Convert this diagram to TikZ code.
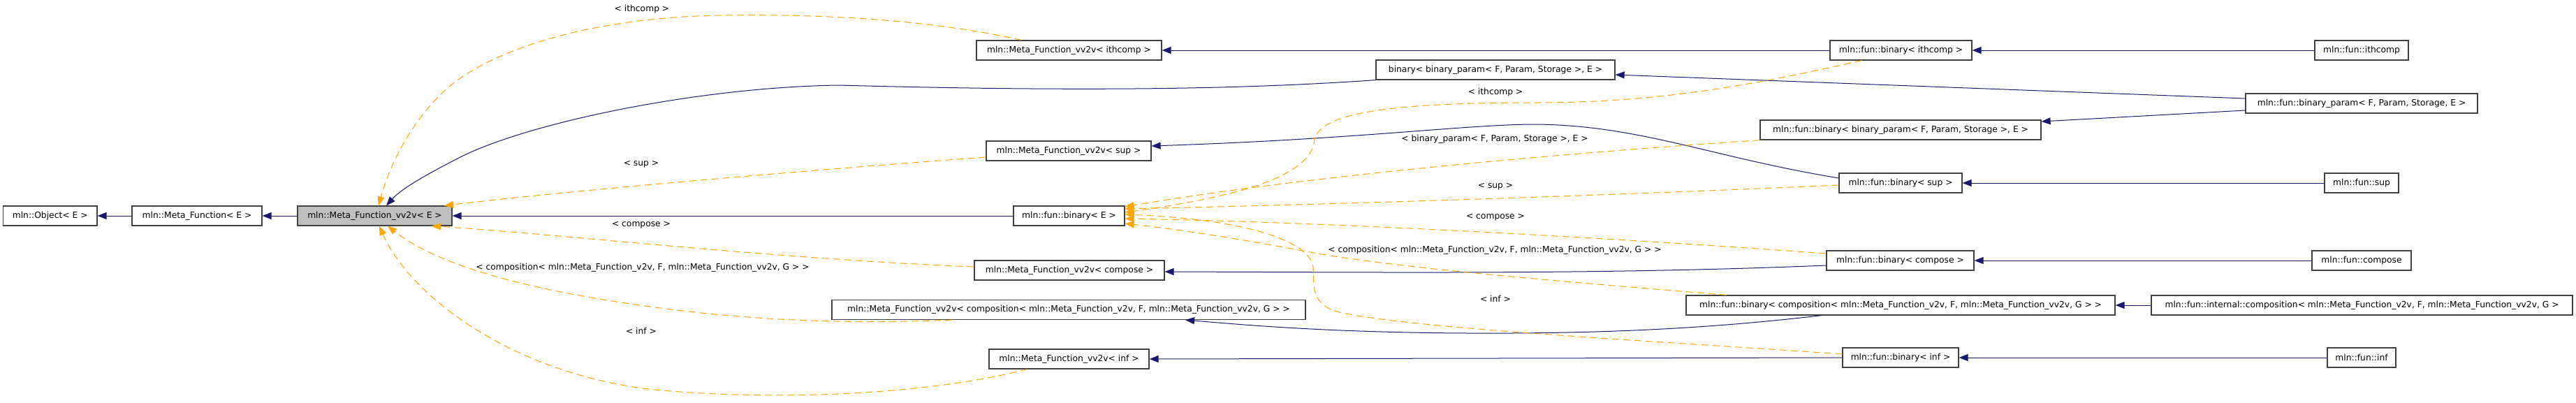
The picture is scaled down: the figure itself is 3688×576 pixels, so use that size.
\documentclass[tikz,border=0pt]{standalone}
\usepackage{fontspec}
\setmainfont{DejaVu Sans}
\usetikzlibrary{arrows.meta}
\definecolor{navyedge}{RGB}{25,25,112}
\definecolor{orangeedge}{RGB}{255,165,0}
\definecolor{boxgray}{RGB}{64,64,64}
\definecolor{mainfill}{RGB}{191,191,191}
\newcommand{\dfont}{\fontsize{12.3pt}{14pt}\selectfont}
\tikzset{
  cbox/.style={draw=boxgray, line width=1.2pt, fill=white, inner sep=0pt, minimum height=28pt, font=\dfont},
  lbl/.style={inner sep=0pt, font=\dfont},
  inh/.style={draw=navyedge, line width=1pt, -{Triangle[length=13pt,width=10pt]}},
  tpl/.style={draw=orangeedge, line width=1pt, dash pattern=on 10pt off 6pt, -{Triangle[length=13pt,width=10pt]}}
}
\begin{document}
\begin{tikzpicture}[x=1pt,y=-1pt]
\useasboundingbox[fill=white] (0,0) rectangle (3688,576);
% nodes
\node[cbox, minimum width=134.6pt] (obj) at (71.7,309) {mln::Object< E >};
\node[cbox, minimum width=186pt] (mf) at (282,309) {mln::Meta\_Function< E >};
\node[cbox, minimum width=221pt, fill=mainfill] (vv) at (536.5,309) {mln::Meta\_Function\_vv2v< E >};
\node[cbox, minimum width=159pt] (binE) at (1530.5,309) {mln::fun::binary< E >};
\node[cbox, minimum width=265pt] (vvith) at (1530.5,72) {mln::Meta\_Function\_vv2v< ithcomp >};
\node[cbox, minimum width=236pt] (vvsup) at (1530,216) {mln::Meta\_Function\_vv2v< sup >};
\node[cbox, minimum width=272pt] (vvcompose) at (1531,387) {mln::Meta\_Function\_vv2v< compose >};
\node[cbox, minimum width=678pt] (vvcomposition) at (1530,443.5) {mln::Meta\_Function\_vv2v< composition< mln::Meta\_Function\_v2v, F, mln::Meta\_Function\_vv2v, G > >};
\node[cbox, minimum width=229pt] (vvinf) at (1530.5,514) {mln::Meta\_Function\_vv2v< inf >};
\node[cbox, minimum width=342pt] (bbp) at (2141,100) {binary< binary\_param< F, Param, Storage >, E >};
\node[cbox, minimum width=203pt] (fbith) at (2721.5,72) {mln::fun::binary< ithcomp >};
\node[cbox, minimum width=402pt] (fbbp) at (2721,186) {mln::fun::binary< binary\_param< F, Param, Storage >, E >};
\node[cbox, minimum width=176pt] (fbsup) at (2721,262) {mln::fun::binary< sup >};
\node[cbox, minimum width=211pt] (fbcompose) at (2720.5,373) {mln::fun::binary< compose >};
\node[cbox, minimum width=614pt] (fbcomposition) at (2721,437) {mln::fun::binary< composition< mln::Meta\_Function\_v2v, F, mln::Meta\_Function\_vv2v, G > >};
\node[cbox, minimum width=166pt] (fbinf) at (2721,512) {mln::fun::binary< inf >};
\node[cbox, minimum width=134pt] (ithcomp) at (3381,72) {mln::fun::ithcomp};
\node[cbox, minimum width=332pt] (bparam) at (3381,148) {mln::fun::binary\_param< F, Param, Storage, E >};
\node[cbox, minimum width=106pt] (sup) at (3381,262) {mln::fun::sup};
\node[cbox, minimum width=142pt] (compose) at (3381,373) {mln::fun::compose};
\node[cbox, minimum width=603pt] (intcomp) at (3381.5,437) {mln::fun::internal::composition< mln::Meta\_Function\_v2v, F, mln::Meta\_Function\_vv2v, G >};
\node[cbox, minimum width=98pt] (inf) at (3381,512) {mln::fun::inf};
% labels
\node[lbl] (l1) at (919,13) {< ithcomp >};
\node[lbl] (l2) at (918,235) {< sup >};
\node[lbl] (l3) at (918,322) {< compose >};
\node[lbl] (l4) at (920,383) {< composition< mln::Meta\_Function\_v2v, F, mln::Meta\_Function\_vv2v, G > >};
\node[lbl] (l5) at (918,474) {< inf >};
\node[lbl] (r1) at (2141,132) {< ithcomp >};
\node[lbl] (r2) at (2140,199) {< binary\_param< F, Param, Storage >, E >};
\node[lbl] (r3) at (2141,267) {< sup >};
\node[lbl] (r4) at (2141,311) {< compose >};
\node[lbl] (r5) at (2140,358) {< composition< mln::Meta\_Function\_v2v, F, mln::Meta\_Function\_vv2v, G > >};
\node[lbl] (r6) at (2141,428) {< inf >};
% straight inheritance
\draw[inh] (mf.west) -- (obj.east);
\draw[inh] (vv.west) -- (mf.east);
\draw[inh] (binE.west) -- (vv.east);
\draw[inh] (fbith.west) -- (vvith.east);
\draw[inh] (ithcomp.west) -- (fbith.east);
\draw[inh] ([yshift=7pt]bparam.west) -- ([yshift=-7pt]bbp.east);
\draw[inh] ([yshift=-10pt]bparam.west) -- ([yshift=12pt]fbbp.east);
\draw[inh] (sup.west) -- (fbsup.east);
\draw[inh] (compose.west) -- (fbcompose.east);
\draw[inh] (intcomp.west) -- (fbcomposition.east);
\draw[inh] (inf.west) -- (fbinf.east);
\draw[inh] (fbinf.west) -- (vvinf.east);
% curved inheritance
\draw[inh] (bbp.south west) .. controls (1750,130) and (1500,130) .. (1200,122)
  .. controls (1000,125) and (760,175) .. (661,224)
  .. controls (610,250) and (575,270) .. ([xshift=16.5pt]vv.north);
\draw[inh] ([yshift=7pt]fbsup.west) .. controls (2450,225) and (2350,180) .. (2200,178)
  .. controls (2100,178) and (1950,199) .. ([yshift=7pt]vvsup.east);
\draw[inh] ([yshift=-7pt]fbcompose.west) .. controls (2300,393) and (2000,390) .. ([yshift=-2pt]vvcompose.east);
\draw[inh] ([xshift=-113pt]fbcomposition.south) .. controls (2450,470) and (2300,478) .. (2100,477)
  .. controls (1900,476) and (1780,465) .. ([xshift=167pt]vvcomposition.south);
% template edges to vv2v<E>
\draw[tpl] ([xshift=-68pt]vvith.north) .. controls (1330,28) and (1180,20) .. (1036,22)
  .. controls (850,24) and (700,70) .. (634,132)
  .. controls (590,175) and (560,230) .. ([xshift=5.5pt]vv.north);
\draw[tpl] ([yshift=-9pt]vvsup.west) .. controls (1100,248) and (800,275) .. ([xshift=99.5pt]vv.north);
\draw[tpl] ([yshift=5pt]vvcompose.west) .. controls (1100,370) and (800,335) .. ([xshift=81.5pt]vv.south);
\draw[tpl] ([xshift=-167pt]vvcomposition.south) .. controls (1250,463) and (1100,462) .. (946,441)
  .. controls (800,422) and (640,390) .. ([xshift=18.5pt]vv.south);
\draw[tpl] ([xshift=-60pt]vvinf.south) .. controls (1350,560) and (1150,575) .. (960,560)
  .. controls (750,545) and (590,430) .. ([xshift=6.5pt]vv.south);
% template edges to binary<E>
\draw[tpl] ([xshift=-56pt]fbith.south) .. controls (2550,112) and (2400,147) .. (2200,147)
  .. controls (2000,147) and (1890,160) .. (1882,200)
  .. controls (1878,240) and (1820,275) .. ([yshift=5pt]binE.east);
\draw[tpl] (fbbp.south west) .. controls (2200,222) and (1850,255) .. ([yshift=13pt]binE.east);
\draw[tpl] ([yshift=-3pt]fbsup.west) .. controls (2300,280) and (1900,293) .. ([yshift=10pt]binE.east);
\draw[tpl] ([yshift=10pt]fbcompose.west) .. controls (2300,340) and (1900,318) .. ([yshift=-4pt]binE.east);
\draw[tpl] ([xshift=-249pt]fbcomposition.north) .. controls (2300,408) and (2000,385) .. (1870,360)
  .. controls (1780,343) and (1700,330) .. ([yshift=-11pt]binE.east);
\draw[tpl] ([yshift=5pt]fbinf.west) .. controls (2400,490) and (2000,470) .. (1910,445)
  .. controls (1875,432) and (1882,405) .. (1880,383)
  .. controls (1878,350) and (1800,315) .. ([yshift=2pt]binE.east);
\end{tikzpicture}
\end{document}
